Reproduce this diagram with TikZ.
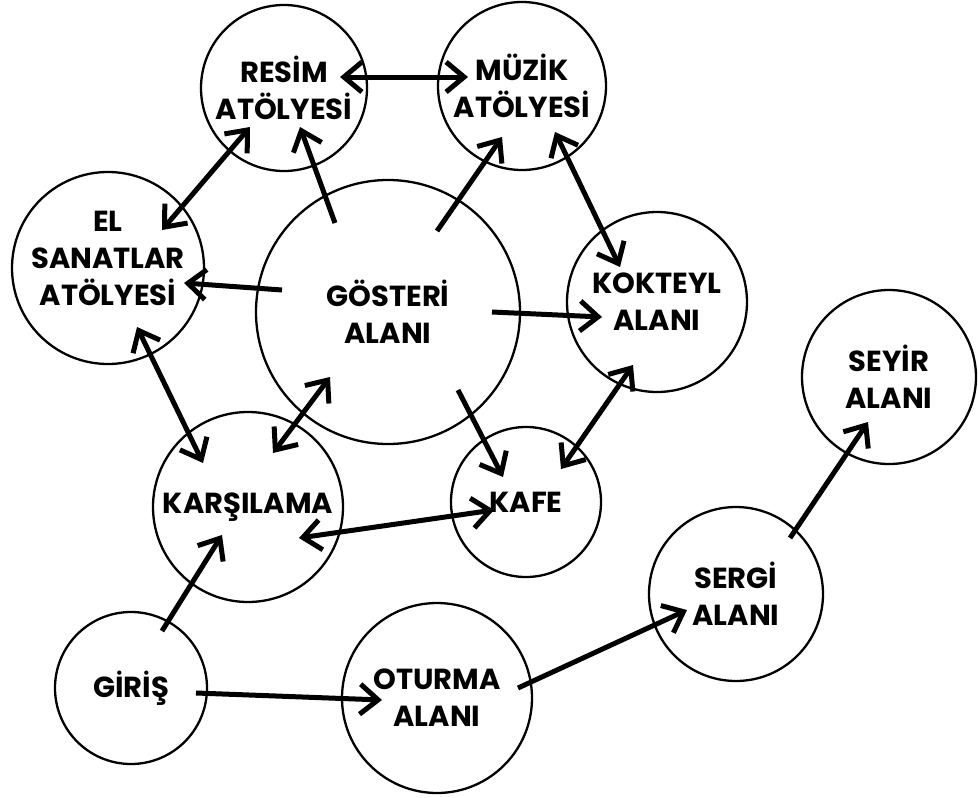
\documentclass[tikz,border=0pt]{standalone}
\usepackage{fontspec}
\setmainfont{Poppins}
\usetikzlibrary{arrows.meta,calc}

\begin{document}
\begin{tikzpicture}[x=1pt, y=-1pt,
    room/.style={draw, circle, line width=2.3pt, inner sep=0pt, align=center,
        font=\fontsize{29}{37}\selectfont\bfseries},
    link/.style={line width=5pt, -{Straight Barb[length=18pt,width=30pt]}},
    both/.style={line width=5pt, {Straight Barb[length=18pt,width=30pt]}-{Straight Barb[length=18pt,width=30pt]}}]
    \useasboundingbox (0,0) rectangle (978,798);

    \node[room, minimum size=166pt] (resim) at (284,88) {RESİM\\ATÖLYESİ};
    \node[room, minimum size=168pt] (muzik) at (522,86) {MÜZİK\\ATÖLYESİ};
    \node[room, minimum size=192pt, text depth=20pt] (el) at (108,268) {EL\\SANATLAR\\ATÖLYESİ};
    \node[room, minimum size=264pt] (gosteri) at (388,312) {GÖSTERİ\\ALANI};
    \node[room, minimum size=180pt] (kokteyl) at (657,302) {KOKTEYL\\ALANI};
    \node[room, minimum size=174pt] (seyir) at (889,377) {SEYİR\\ALANI};
    \node[room, minimum size=190pt] (karsilama) at (248,507) {KARŞILAMA};
    \node[room, minimum size=150pt] (kafe) at (526,502) {KAFE};
    \node[room, minimum size=174pt] (sergi) at (736,594) {SERGİ\\ALANI};
    \node[room, minimum size=152pt] (giris) at (131,688) {GİRİŞ};
    \node[room, minimum size=190pt] (oturma) at (437,698) {OTURMA\\ALANI};

    % two-way links
    \draw[both] ($(resim)+(56,-11)$) -- ($(muzik)+(-54,-9)$);
    \draw[both] ($(el)+(54,-38)$) -- ($(resim)+(-34,39)$);
    \draw[both] ($(muzik)+(33,46)$) -- ($(kokteyl)+(-37,-35)$);
    \draw[both] ($(el)+(29,59)$) -- ($(karsilama)+(-45,-44)$);
    \draw[both] ($(gosteri)+(-58,65)$) -- ($(karsilama)+(25,-54)$);
    \draw[both] ($(kokteyl)+(-24,63)$) -- ($(kafe)+(35,-33)$);
    \draw[both] ($(karsilama)+(51,31)$) -- ($(kafe)+(-32,8)$);

    % one-way links
    \draw[link] ($(gosteri)+(-53,-89)$) -- ($(resim)+(16,39)$);
    \draw[link] ($(gosteri)+(49,-81)$) -- ($(muzik)+(-20,51)$);
    \draw[link] ($(gosteri)+(-106,-22)$) -- ($(el)+(76,15)$);
    \draw[link] ($(gosteri)+(104,0)$) -- ($(kokteyl)+(-55,15)$);
    \draw[link] ($(gosteri)+(70,78)$) -- ($(kafe)+(-23,-25)$);
    \draw[link] ($(giris)+(31,-57)$) -- ($(karsilama)+(-26,28)$);
    \draw[link] ($(giris)+(65,5)$) -- ($(oturma)+(-55,2)$);
    \draw[link] ($(oturma)+(81,-10)$) -- ($(sergi)+(-49,16)$);
    \draw[link] ($(sergi)+(54,-56)$) -- ($(seyir)+(-21,45)$);
\end{tikzpicture}
\end{document}
